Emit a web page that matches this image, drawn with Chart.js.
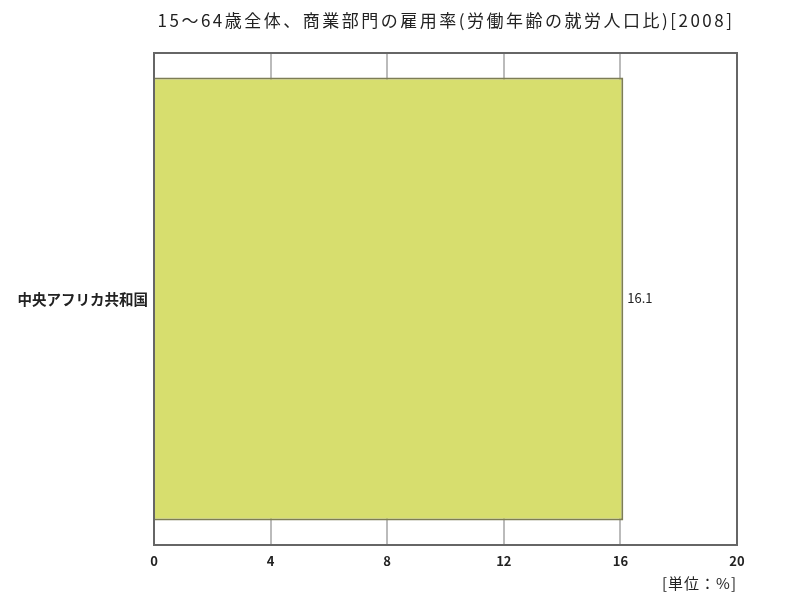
<!DOCTYPE html>
<html>
<head>
<meta charset="utf-8">
<script src="https://cdn.jsdelivr.net/npm/chart.js@4"></script>
<style>
  html, body { margin: 0; padding: 0; background: #fff; }
  #wrap { width: 800px; height: 600px; }
</style>
</head>
<body>
<div id="wrap"><canvas id="myChart" width="800" height="600"></canvas></div>
<script>
const titleText = '15～64歳全体、商業部門の雇用率(労働年齢の就労人口比)[2008]';
const unitText = '[単位：%]';
const countries = ['中央アフリカ共和国'];
const rates = [16.1];
const xTicks = [0, 4, 8, 12, 16, 20];

const font = '"Noto Sans CJK JP", "Noto Sans", sans-serif';

// title, unit, frame and value label
const decorations = {
    id: 'decorations',
    afterDraw(chart) {
        const c = chart.ctx;
        const area = chart.chartArea;
        c.save();
        c.fillStyle = '#222';
        c.font = '17px ' + font;
        c.letterSpacing = '2.5px';
        c.textAlign = 'center';
        c.textBaseline = 'middle';
        c.fillText(titleText, 446, 21);

        c.font = '15px ' + font;
        c.letterSpacing = '1px';
        c.textAlign = 'right';
        c.fillText(unitText, 737, 583);
        c.letterSpacing = '0px';

        c.strokeStyle = '#666';
        c.lineWidth = 2;
        c.strokeRect(area.left, area.top, area.right - area.left, area.bottom - area.top);

        const meta = chart.getDatasetMeta(0);
        c.font = '13px ' + font;
        c.textAlign = 'left';
        meta.data.forEach((bar, i) => {
            c.fillText(String(rates[i]), bar.x + 4, bar.y - 1);
        });
        c.restore();
    }
};

new Chart(document.getElementById('myChart'), {
    type: 'bar',
    data: {
        labels: countries,
        datasets: [{
            data: rates,
            backgroundColor: '#d7de6e',
            borderColor: '#7d7d55',
            borderWidth: 2,
            borderSkipped: 'left',
            barPercentage: 1,
            categoryPercentage: 0.9
        }]
    },
    options: {
        indexAxis: 'y',
        responsive: false,
        animation: false,
        layout: { padding: { top: 53, right: 63, left: 0, bottom: 0 } },
        plugins: {
            legend: { display: false },
            title: { display: false },
            tooltip: { enabled: false }
        },
        scales: {
            x: {
                min: 0,
                max: 20,
                afterBuildTicks(scale) {
                    scale.ticks = xTicks.map(v => ({ value: v }));
                },
                afterFit(scale) { scale.height = 55; },
                grid: { color: '#bbb', lineWidth: 2, drawTicks: false },
                border: { display: false },
                ticks: {
                    color: '#222',
                    padding: 8,
                    font: { family: font, size: 13, weight: 'bold' }
                }
            },
            y: {
                afterFit(scale) { scale.width = 154; },
                grid: { display: false, drawTicks: false },
                border: { display: false },
                ticks: {
                    color: '#222',
                    padding: 6,
                    font: { family: font, size: 14.5, weight: 'bold' }
                }
            }
        }
    },
    plugins: [decorations]
});
</script>
</body>
</html>
